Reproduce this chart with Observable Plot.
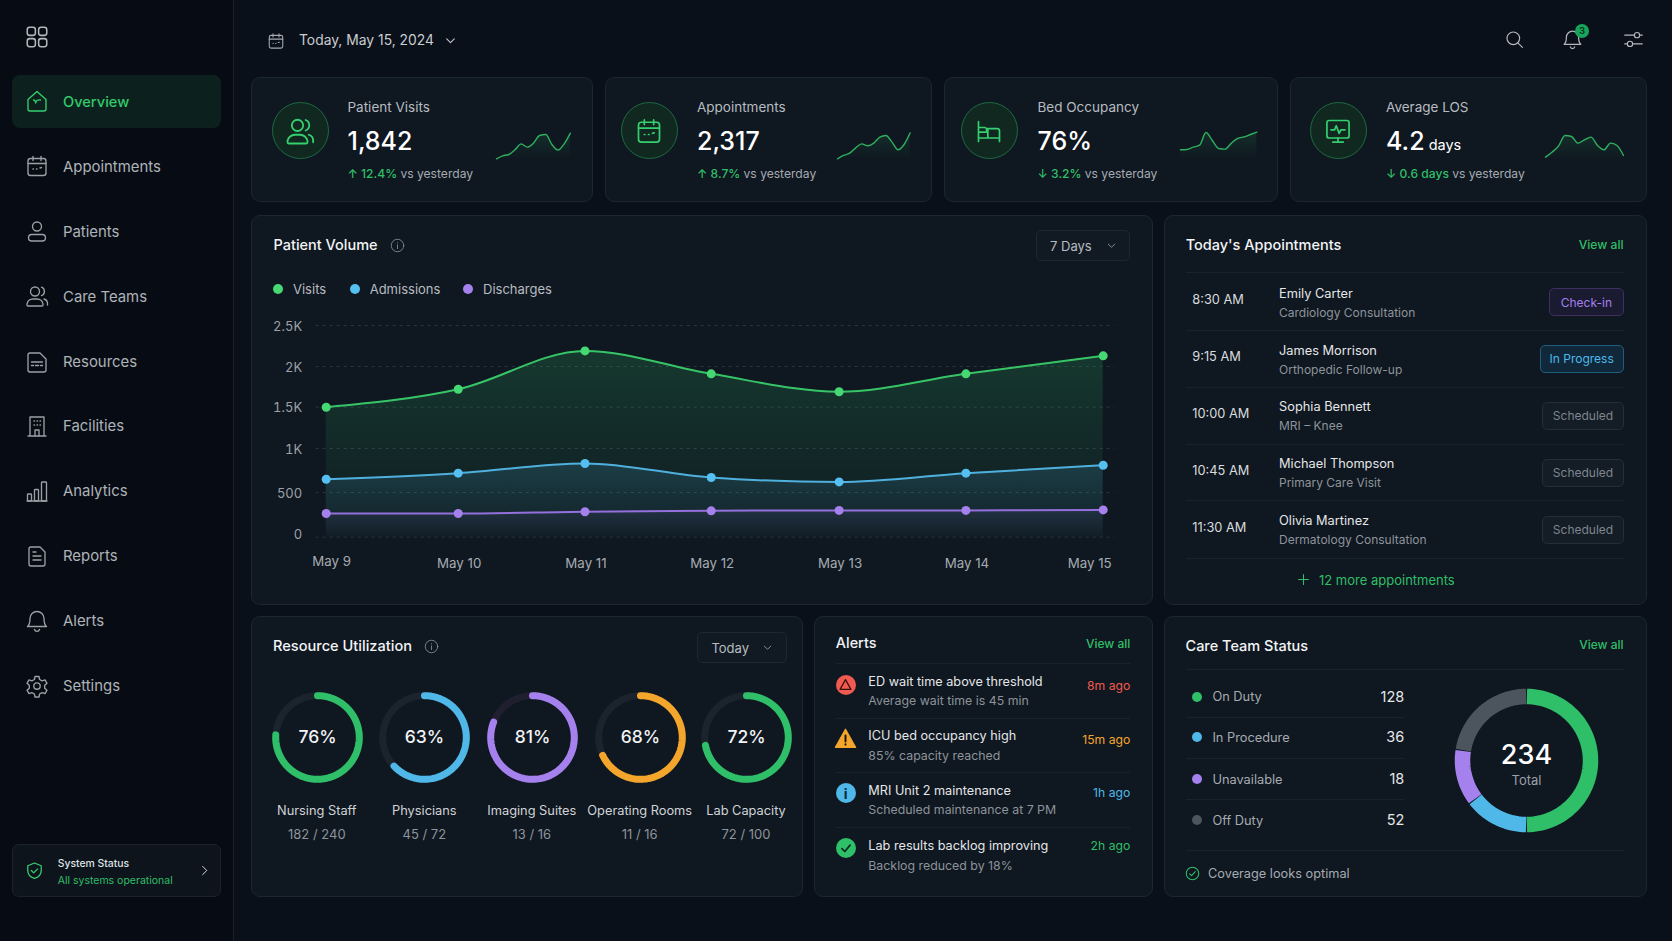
<!DOCTYPE html>
<html><head><meta charset="utf-8">
<script src="https://cdn.jsdelivr.net/npm/d3@7"></script>
<script src="https://cdn.jsdelivr.net/npm/@observablehq/plot@0.6"></script>
<style>
html,body{margin:0;padding:0;width:1672px;height:941px;overflow:hidden;background:#0a1019;font-family:Inter,"Noto Sans",sans-serif;-webkit-font-smoothing:antialiased}
#app{position:relative;width:1672px;height:941px;overflow:hidden}
.t{position:absolute;white-space:nowrap;line-height:1;transform:translateY(-50%)}
.b{position:absolute;box-sizing:border-box}
.plotwrap{position:absolute}
.plotwrap svg{display:block;overflow:visible}
.ic{position:absolute;overflow:visible}
</style></head><body><div id="app"></div>
<script>
// ---------- DATA ----------
const navItems = ["Overview","Appointments","Patients","Care Teams","Resources","Facilities","Analytics","Reports","Alerts","Settings"];
const headerDate = "Today, May 15, 2024";
const kpiTitles = ["Patient Visits","Appointments","Bed Occupancy","Average LOS"];
const kpiValues = ["1,842","2,317","76%","4.2"];
const kpiUnits = ["","",""," days"];
const kpiDeltas = ["↑ 12.4%","↑ 8.7%","↓ 3.2%","↓ 0.6 days"];
const kpiDeltaNote = "vs yesterday";
const spark1 = [5,14,18,32,50,40,52,75,78,48,31,50,82];
const spark2 = [5,15,22,38,50,44,52,70,75,55,32,48,83];
const spark3 = [32,33,40,46,84,60,36,34,52,66,71,78,85];
const spark4 = [10,25,43,75,72,52,62,70,45,32,52,45,15];
const days = [9,10,11,12,13,14,15];
const visits = [1500,1720,2190,1910,1690,1910,2130];
const admissions = [650,720,830,670,620,720,810];
const discharges = [265,265,285,295,300,300,305];
const yTicks = [0,500,1000,1500,2000,2500];
const yTickLabels = ["0","500","1K","1.5K","2K","2.5K"];
const legendNames = ["Visits","Admissions","Discharges"];
const apptTimes = ["8:30 AM","9:15 AM","10:00 AM","10:45 AM","11:30 AM"];
const apptNames = ["Emily Carter","James Morrison","Sophia Bennett","Michael Thompson","Olivia Martinez"];
const apptTypes = ["Cardiology Consultation","Orthopedic Follow-up","MRI – Knee","Primary Care Visit","Dermatology Consultation"];
const apptStatus = ["Check-in","In Progress","Scheduled","Scheduled","Scheduled"];
const resourceNames = ["Nursing Staff","Physicians","Imaging Suites","Operating Rooms","Lab Capacity"];
const resourcePct = [76,63,81,68,72];
const resourceCounts = ["182 / 240","45 / 72","13 / 16","11 / 16","72 / 100"];
const alertTitles = ["ED wait time above threshold","ICU bed occupancy high","MRI Unit 2 maintenance","Lab results backlog improving"];
const alertSubs = ["Average wait time is 45 min","85% capacity reached","Scheduled maintenance at 7 PM","Backlog reduced by 18%"];
const alertTimes = ["8m ago","15m ago","1h ago","2h ago"];
const careLabels = ["On Duty","In Procedure","Unavailable","Off Duty"];
const careValues = [128,36,18,52];
const careArcShares = [50,14.7,12.8,22.5]; // arc shares as drawn in the picture
const careTotal = 234;

// ---------- STYLE ----------
const C = {green:"#2fbf68",greenB:"#45d873",blue:"#4fb8e8",blueB:"#55bff2",purple:"#a581ee",orange:"#f4a62c",red:"#ef5b50",gray:"#4c555e",
  text:"#f2f4f6",mid:"#c3c8cd",dim:"#8d949b",card:"#0f1720",line:"#1c2630"};
const app = document.getElementById("app");
function T(x,y,s,o={}){const d=document.createElement("div");d.className="t";d.textContent=s;
  const size=o.size||14;if(size<14.4)y+=.8;
  const st=d.style;st.top=y+"px";st.fontSize=size+"px";st.fontWeight=o.w||400;st.color=o.c||C.mid;
  if(o.right)st.right=(1672-x)+"px";else if(o.center){st.left=x+"px";st.transform="translate(-50%,-50%)";}else st.left=x+"px";
  app.appendChild(d);return d;}
function B(x0,y0,x1,y1,o={}){const d=document.createElement("div");d.className="b";const s=d.style;
  s.left=x0+"px";s.top=y0+"px";s.width=(x1-x0)+"px";s.height=(y1-y0)+"px";
  if(o.bg)s.background=o.bg;if(o.bd)s.border="1px solid "+o.bd;if(o.r)s.borderRadius=o.r+"px";
  app.appendChild(d);return d;}
function HR(x0,x1,y){B(x0,y,x1,y+1,{bg:"#1a232d"});}
const ICONS={
 grid:'<rect x="3" y="3" width="7.5" height="7.5" rx="2.2"/><rect x="13.5" y="3" width="7.5" height="7.5" rx="2.2"/><rect x="3" y="13.5" width="7.5" height="7.5" rx="2.2"/><rect x="13.5" y="13.5" width="7.5" height="7.5" rx="2.2"/>',
 home:'<path d="M3 10.5 12 2.5l9 8V20a2 2 0 0 1-2 2H5a2 2 0 0 1-2-2z"/><path d="M8.5 11c1.5 0 2 1 2.2 3 .3-2 1.8-3.5 4.8-3"/>',
 cal:'<rect x="3" y="4.5" width="18" height="17" rx="2.5"/><path d="M3 9.5h18M8 2.5v4M16 2.5v4M8 15h.5M11.5 15h.5M15 14l1.5-.5"/>',
 user:'<circle cx="12" cy="7.5" r="4.5"/><rect x="3.5" y="15.5" width="17" height="6.5" rx="3.2"/>',
 users:'<circle cx="10" cy="7.5" r="4.5"/><path d="M2 21v-1a6 6 0 0 1 6-5h4a6 6 0 0 1 6 5v1a1 1 0 0 1-1 1H3a1 1 0 0 1-1-1z"/><path d="M16.5 3.2a4.5 4.5 0 0 1 0 8.4M19 15a5 5 0 0 1 3.500 5v1"/>',
 res:'<path d="M3 5a2 2 0 0 1 2-2h10l6 6v11a2 2 0 0 1-2 2H5a2 2 0 0 1-2-2z"/><path d="M6.500 12h11M6.500 15.500h2M10.500 15.500h3M15.500 15.500h2"/>',
 bldg:'<path d="M3 22h18M5 22V3h14v19"/><path d="M9 7h.5M12 7h.5M15 7h.5M9 11h.5M12 11h.5M15 11h.5M10 22v-6h4v6"/>',
 bars:'<path d="M2 22h20"/><rect x="2.500" y="15" width="4" height="7" rx=".8"/><rect x="9.500" y="10.500" width="4" height="11.500" rx=".8"/><rect x="16.500" y="3" width="5" height="19" rx=".8"/>',
 doc:'<path d="M4 5a2 2 0 0 1 2-2h9l5 5v12a2 2 0 0 1-2 2H6a2 2 0 0 1-2-2z"/><path d="M8 12h8M8 16h8M8 8h3"/>',
 bell:'<path d="M12 2.500a7 7 0 0 0-7 7c0 6-2.500 8-2.500 8h19s-2.500-2-2.500-8a7 7 0 0 0-7-7z"/><path d="M9.500 20.500a2.600 2.600 0 0 0 5 0"/>',
 gear:'<circle cx="12" cy="12" r="3.200"/><path d="M10 2.500h4l.6 3 2.500 1.400 2.900-1 2 3.400-2.300 2 0 2.900 2.300 2-2 3.400-2.900-1-2.500 1.400-.6 3h-4l-.6-3-2.500-1.400-2.900 1-2-3.400 2.300-2 0-2.900-2.300-2 2-3.400 2.900 1L9.400 5.500z"/>',
 shield:'<path d="M12 2.500 20.500 6v6c0 5-3.500 8.500-8.500 10-5-1.500-8.500-5-8.500-10V6z"/><path d="m8 12 3 3 5-5"/>',
 search:'<circle cx="10.500" cy="10.500" r="8"/><path d="m16.500 16.500 5.500 5.500"/>',
 sliders:'<path d="M2 7h11M19 7h3M2 17h3M11 17h11"/><circle cx="16" cy="7" r="3"/><circle cx="8" cy="17" r="3"/>',
 info:'<circle cx="12" cy="12" r="10"/><path d="M12 11v6M12 7.500v.5"/>',
 chev:'<path d="m5 9 7 7 7-7"/>',
 chevr:'<path d="m8 3 9 9-9 9"/>',
 check:'<circle cx="12" cy="12" r="10"/><path d="m7.500 12.500 3 3 6-6.500"/>',
 plus:'<path d="M12 3v18M3 12h18"/>',
 bed:'<path d="M3 4v17M3 18h18M21 21v-9a2 2 0 0 0-2-2h-8v8M3 9h5a2 2 0 0 1 2 2v2H3"/>',
 monitor:'<rect x="2.500" y="3" width="19" height="15" rx="2"/><path d="M12 18v3M7.500 21.500h9M6 11h3l1.500-3.500 2.500 6.500 1.500-3h3.500"/>'
};
function I(name,x,y,size,color,sw){const ns="http://www.w3.org/2000/svg";const s=document.createElementNS(ns,"svg");
  s.setAttribute("class","ic");s.setAttribute("viewBox","0 0 24 24");s.setAttribute("width",size);s.setAttribute("height",size);
  s.style.left=(x-size/2)+"px";s.style.top=(y-size/2)+"px";
  s.innerHTML=`<g fill="none" stroke="${color}" stroke-width="${sw||1.5}" stroke-linecap="round" stroke-linejoin="round">${ICONS[name]}</g>`;
  app.appendChild(s);return s;}
function RAW(html,x,y,size){const s=document.createElementNS("http://www.w3.org/2000/svg","svg");s.setAttribute("class","ic");s.setAttribute("viewBox","0 0 24 24");s.setAttribute("width",size);s.setAttribute("height",size);
  s.style.left=(x-size/2)+"px";s.style.top=(y-size/2)+"px";s.innerHTML=html;app.appendChild(s);}
function place(node,x,y){const w=document.createElement("div");w.className="plotwrap";w.style.left=x+"px";w.style.top=y+"px";w.appendChild(node);app.appendChild(w);}
function defs(id,stops){return ()=>{const d=d3.create("svg:defs");const g=d.append("linearGradient").attr("id",id).attr("x1",0).attr("x2",0).attr("y1",0).attr("y2",1);
  stops.forEach(([o,c,a])=>g.append("stop").attr("offset",o).attr("stop-color",c).attr("stop-opacity",a));return d.node();};}
const plotStyle={background:"transparent",fontFamily:"Inter,sans-serif"};

// ---------- SIDEBAR ----------
B(0,0,233,941,{bg:"#070c14"});B(233,0,234,941,{bg:"#18212b"});
I("grid",36.700,36.700,26,"#b3b8bd",1.4);
const navY=[101.300,166.300,231.400,296.400,361.500,425.500,490.500,555.500,620.600,685.600];
const navIc=["home","cal","user","users","res","bldg","bars","doc","bell","gear"];
B(12,75,221,128,{bg:"#0c211d",r:8});
navItems.forEach((n,i)=>{const on=i===0;I(navIc[i],36.500,navY[i],24,on?"#36cf70":"#9aa0a6",1.35);
  T(63,navY[i]+.4,n,{size:on?14.6:14.9,c:on?"#33c86c":"#aeb3b8",w:on?500:400});});
B(12,844,221,897,{bg:"#0d141c",bd:"#1a232d",r:7});
I("shield",34.500,870,19,"#36cf70",1.6);
T(57.700,863,"System Status",{size:10.400,c:"#dfe2e5",w:500});
T(57.700,880,"All systems operational",{size:10.500,c:C.green});
I("chevr",204,870,11,"#e8eaec",2);

// ---------- HEADER ----------
I("cal",276,40.500,18,"#a5abb1",1.4);
T(299,40.500,headerDate,{size:13.850,c:"#c9cdd1"});
I("chev",450,40.500,13,"#c3c8cd",2);
I("search",1514.500,39,19,"#b3b8bd",1.5);
I("bell",1572.500,39.500,21,"#b3b8bd",1.4);
I("sliders",1633.500,39,21,"#b3b8bd",1.3);
B(1575,23.500,1589,37.500,{bg:"#17a55c",r:7});
T(1582,30,"3",{size:9.500,c:"#08301e",center:true,w:600});

// ---------- KPI CARDS ----------
const kpiBox=[[251,593],[604.500,932],[944,1278],[1290,1646.500]];
const kpiIconX=[300,649,989,1338], kpiTextX=[347.500,697,1037.500,1386];
const kpiIc=["users","cal","bed","monitor"];
const kpiSpark=[spark1,spark2,spark3,spark4];
const sparkBox=[[496.400,570.300],[837,909.700],[1179.600,1256],[1545,1623]];
kpiBox.forEach(([a,b],i)=>{
  B(a,77,b,202,{bg:C.card,bd:C.line,r:9});
  B(kpiIconX[i]-28.500,102,kpiIconX[i]+28.500,159,{bg:"#10281f",bd:"#1d6a41",r:29});
  I(kpiIc[i],kpiIconX[i],130.500,i===0?30:28,"#36cf70",1.45);
  T(kpiTextX[i],107.200,kpiTitles[i],{size:13.500,c:"#b7bcc1"});
  const v=T(kpiTextX[i],140.700,kpiValues[i],{size:25,c:"#fff",w:500});
  if(kpiUnits[i]){const u=document.createElement("span");u.textContent=kpiUnits[i];u.style.fontSize="14.5px";u.style.fontWeight=400;v.appendChild(u);}
  const dl=T(kpiTextX[i],172.900,"",{size:12.100,c:"#a5abb1"});
  const sp=document.createElement("span");sp.textContent=kpiDeltas[i]+" ";sp.style.color=C.green;sp.style.fontWeight=500;dl.appendChild(sp);dl.appendChild(document.createTextNode(kpiDeltaNote));
  const [sa,sb]=sparkBox[i];const w=sb-sa,id="sg"+i;
  const sd=kpiSpark[i].map((v,k)=>({k,v}));
  place(Plot.plot({width:w,height:32,margin:0,style:plotStyle,x:{axis:null,domain:[0,12]},y:{axis:null,domain:[0,96]},marks:[
    defs(id,[[0,"#2fbf68",.14],[1,"#2fbf68",0]]),
    Plot.areaY(sd,{x:"k",y:"v",fill:`url(#${id})`,curve:"monotone-x"}),
    Plot.lineY(sd,{x:"k",y:"v",stroke:"#2fae5e",strokeWidth:1.4,curve:"monotone-x"})
  ]}),sa,128);
});

// ---------- PATIENT VOLUME ----------
B(251,215,1153,605,{bg:C.card,bd:C.line,r:9});
T(273.500,245,"Patient Volume",{size:14.500,c:C.text,w:500});
I("info",397,245,15,"#8d949b",1.3);
B(1036,230,1130,261,{bg:"#111a23",bd:"#1d2731",r:5});
T(1050,245.300,"7 Days",{size:13,c:"#b7bcc1"});
I("chev",1111.500,245.500,11,"#9aa0a6",1.8);
[[278,C.greenB,293],[354.500,C.blueB,369.700],[468,C.purple,483]].forEach(([x,c,tx],i)=>{
  B(x-5,283.700,x+5,293.700,{bg:c,r:5});T(tx,287.700,legendNames[i],{size:13,c:"#b7bcc1"});});
const series=[["Visits",visits,C.greenB,"#37c466"],["Admissions",admissions,C.blueB,"#4fb0de"],["Discharges",discharges,C.purple,"#9470dc"]];
const rows=series.map(([name,vals,dot,line])=>vals.map((v,i)=>({name,day:days[i],v,dot,line})));
const PX=251,PY=215;
const xPix=[325.700,457.700,584.500,710.700,838.600,965.400,1102.700].map(d=>d-PX);
const yPix=[536.700,492,448,406.700,366,325].map(d=>d-PY);
const fills=["gVis","gAdm","gDis"];
const xLab=days.map(d=>({day:d,label:"May "+d}));
const yAxisOpt={label:null,tickSize:0,tickPadding:14,tickFormat:d=>yTickLabels[yTicks.indexOf(d)],fontSize:13,fill:"#9ba1a7"};
const xTextOpt={x:"day",text:"label",frameAnchor:"bottom",lineAnchor:"middle",fontSize:13.300,fill:"#a5abb1"};
place(Plot.plot({width:902,height:390,marginLeft:64.700,marginRight:38.600,marginTop:100,marginBottom:68.300,style:plotStyle,
  x:{axis:null,type:"linear",domain:days,range:xPix},
  y:{axis:null,type:"linear",domain:yTicks,range:yPix},
  marks:[
    defs("gVis",[[0,"#2fbf68",.20],[1,"#2fbf68",.02]]),
    defs("gAdm",[[0,"#4fb8e8",.16],[1,"#4fb8e8",.02]]),
    defs("gDis",[[0,"#a581ee",.09],[1,"#a581ee",0]]),
    Plot.gridY(yTicks,{stroke:"#2a343e",strokeOpacity:1,strokeDasharray:"3 4"}),
    Plot.axisY(yTicks.slice(1),{...yAxisOpt,dy:1}),
    Plot.axisY(yTicks.slice(0,1),{...yAxisOpt,dy:-2.500}),
    ...rows.map((r,i)=>Plot.areaY(r,{x:"day",y:"v",fill:`url(#${fills[i]})`,curve:"monotone-x"})),
    ...rows.map((r,i)=>Plot.lineY(r,{x:"day",y:"v",stroke:series[i][3],strokeWidth:2,curve:"monotone-x"})),
    ...rows.map((r,i)=>Plot.dot(r,{x:"day",y:"v",r:4.500,fill:series[i][2]})),
    Plot.text(xLab.slice(0,1),{...xTextOpt,dy:25,dx:5.500}),
    Plot.text(xLab.slice(1,6),{...xTextOpt,dy:26.300,dx:1}),
    Plot.text(xLab.slice(6),{...xTextOpt,dy:26.300,dx:-13.500})
  ]}),PX,PY);

// ---------- TODAY'S APPOINTMENTS ----------
B(1164,215,1647,605,{bg:C.card,bd:C.line,r:9});
T(1185.700,245,"Today's Appointments",{size:14.500,c:C.text,w:500});
T(1623.500,243.900,"View all",{size:12.100,c:C.green,w:500,right:true});
[272.300,330,386.700,443.700,500.300,557.700].forEach(y=>HR(1185.700,1624,y));
const rowT=[299.500,356.500,413.500,470.200,527.200],rowN=[292.800,349.800,406.500,463.500,520.200],rowS=[311.900,368.900,425.500,482.500,539.200];
const badgeX=[1549,1539.700,1542.300,1542.300,1542.300],badgeY=[288.300,345,402,458.600,515.600];
const badgeSt={"Check-in":["#1a1a30","#3e2f63",C.purple],"In Progress":["#10283a","#1f5f7e",C.blue],"Scheduled":["#141c25","#252e38","#7f868d"]};
apptTimes.forEach((t,i)=>{
  T(1192.300,rowT[i],t,{size:12.800,c:"#d9dcdf"});
  T(1279,rowN[i],apptNames[i],{size:12.800,c:"#e4e6e8"});
  T(1279,rowS[i],apptTypes[i],{size:12,c:"#8d949b"});
  const st=badgeSt[apptStatus[i]];
  B(badgeX[i],badgeY[i],1623.700,badgeY[i]+28,{bg:st[0],bd:st[1],r:5});
  T((badgeX[i]+1623.700)/2,badgeY[i]+13.500,apptStatus[i],{size:12,c:st[2],center:true,w:400});
});
I("plus",1303.300,579.700,13,C.green,2);
T(1319,578.900,"12 more appointments",{size:13,c:C.green,w:400});

// ---------- RESOURCE UTILIZATION ----------
B(251,616,802.500,897,{bg:C.card,bd:C.line,r:9});
T(273,646,"Resource Utilization",{size:14.600,c:C.text,w:500});
I("info",431.400,646.700,15,"#8d949b",1.3);
B(697,632.300,786.500,663.300,{bg:"#111a23",bd:"#1d2731",r:5});
T(711.400,647.300,"Today",{size:13,c:"#b7bcc1"});
I("chev",767,647.500,11,"#9aa0a6",1.8);
const ringX=[316.800,424.300,531.800,639.700,746],ringC=[C.green,C.blue,C.purple,C.orange,C.green];
const ringTrack=["#1b242c","#1b242c","#201f30","#1b242c","#1b242c"];
const STEP=2.500; // degrees per sampled vertex of an arc
function arc(fromPct,toPct,r){const a=[];const n=Math.max(2,Math.ceil((toPct-fromPct)*3.6/STEP));
  for(let i=0;i<=n;i++){const t=(fromPct+(toPct-fromPct)*i/n)/100*2*Math.PI;a.push({x:r*Math.sin(t),y:r*Math.cos(t)});}return a;}
resourceNames.forEach((n,i)=>{
  place(Plot.plot({width:100,height:100,margin:0,style:plotStyle,x:{axis:null,domain:[-50,50]},y:{axis:null,domain:[-50,50]},marks:[
    Plot.line(arc(0,100,41.800),{x:"x",y:"y",stroke:ringTrack[i],strokeWidth:7}),
    Plot.line(arc(0,resourcePct[i],41.800),{x:"x",y:"y",stroke:ringC[i],strokeWidth:7,strokeLinecap:"round"}),
    Plot.text([resourcePct[i]+"%"],{x:0,y:0,text:d=>d,fontSize:17.500,fontWeight:500,fill:"#f2f4f6",dy:-.5})
  ]}),ringX[i]-50,737.300-50);
  T(ringX[i],810,n,{size:12.800,c:"#d0d4d8",center:true});
  T(ringX[i],833.600,resourceCounts[i],{size:13,c:"#8d949b",center:true});
});

// ---------- ALERTS ----------
B(814,616,1152.500,897,{bg:C.card,bd:C.line,r:9});
T(835.800,643.300,"Alerts",{size:14.400,c:C.text,w:500});
T(1130.300,642.800,"View all",{size:12,c:C.green,w:500,right:true});
[663.300,718.300,772.300,826.700].forEach(y=>HR(835.800,1130.500,y));
const alertIY=[685.300,738.700,793.300,848],alertTY=[680.900,735.500,789.900,845.300],alertSY=[700.500,755.300,809,865.500],alertWY=[684.800,738.800,792.200,845.200];
const alertC=[C.red,C.orange,C.blue,C.green];
alertIY.forEach((y,i)=>{
  if(i===1){RAW(`<path d="M12 1.500 23.500 22H.5z" fill="${C.orange}" stroke="${C.orange}" stroke-width="1.500" stroke-linejoin="round"/><path d="M12 8.500v7M12 18.500v.5" stroke="#1a1206" stroke-width="2.200" stroke-linecap="round"/>`,845.700,y,21);}
  else{B(835.700,y-10,855.700,y+10,{bg:alertC[i],r:10});
    if(i===0)RAW('<path d="M12 3 22 21H2z" fill="none" stroke="#3a0f0b" stroke-width="2.300" stroke-linejoin="round"/>',845.700,y-.500,13);
    if(i===2)T(845.700,y-.3,"i",{size:14,c:"#0c2a3a",w:700,center:true});
    if(i===3)RAW('<path d="m5 13 5 5 9-11" fill="none" stroke="#08301e" stroke-width="3" stroke-linecap="round" stroke-linejoin="round"/>',845.700,y,14);
  }
  T(868.300,alertTY[i],alertTitles[i],{size:12.700,c:"#e4e6e8"});
  T(868.300,alertSY[i],alertSubs[i],{size:12.350,c:"#8d949b"});
  T(1130.300,alertWY[i],alertTimes[i],{size:12.200,c:alertC[i],right:true});
});

// ---------- CARE TEAM STATUS ----------
B(1164,616,1647,897,{bg:C.card,bd:C.line,r:9});
T(1185.500,646,"Care Team Status",{size:14.500,c:C.text,w:500});
T(1623.600,643.900,"View all",{size:12,c:C.green,w:500,right:true});
HR(1185.500,1624,669);HR(1185.500,1404.300,716.700);HR(1185.500,1404.300,757.700);HR(1185.500,1404.300,799.300);HR(1185.500,1624,850);
const careC=[C.green,C.blue,C.purple,C.gray],careY=[696.700,737.300,779,820.300];
careLabels.forEach((n,i)=>{
  B(1192,careY[i]-5,1202,careY[i]+5,{bg:careC[i],r:5});
  T(1212.400,careY[i]-.3,n,{size:12.800,c:"#a5abb1"});
  T(1404.300,careY[i],String(careValues[i]),{size:14.500,c:"#e4e6e8",right:true,w:400});
});
let cum=0;const donut=[];careArcShares.forEach((s,i)=>{arc(cum+.1,cum+s-.1,64).forEach(p=>donut.push({...p,name:careLabels[i]}));cum+=s;});
place(Plot.plot({width:160,height:160,margin:0,style:plotStyle,x:{axis:null,domain:[-80,80]},y:{axis:null,domain:[-80,80]},
  color:{domain:careLabels,range:careC},marks:[
    Plot.line(donut,{x:"x",y:"y",z:"name",stroke:"name",strokeWidth:15.500,strokeLinecap:"butt",strokeLinejoin:"miter"}),
    Plot.text([String(careTotal)],{x:0,y:0,text:d=>d,fontSize:27,fontWeight:500,fill:"#fff",dy:-5.500}),
    Plot.text(["Total"],{x:0,y:0,text:d=>d,fontSize:13,fill:"#9ba1a7",dy:20})
  ]}),1526.300-80,760.300-80);
I("check",1192,873,15,C.green,1.7);
T(1208,872.700,"Coverage looks optimal",{size:12.750,c:"#a5abb1"});
</script></body></html>
